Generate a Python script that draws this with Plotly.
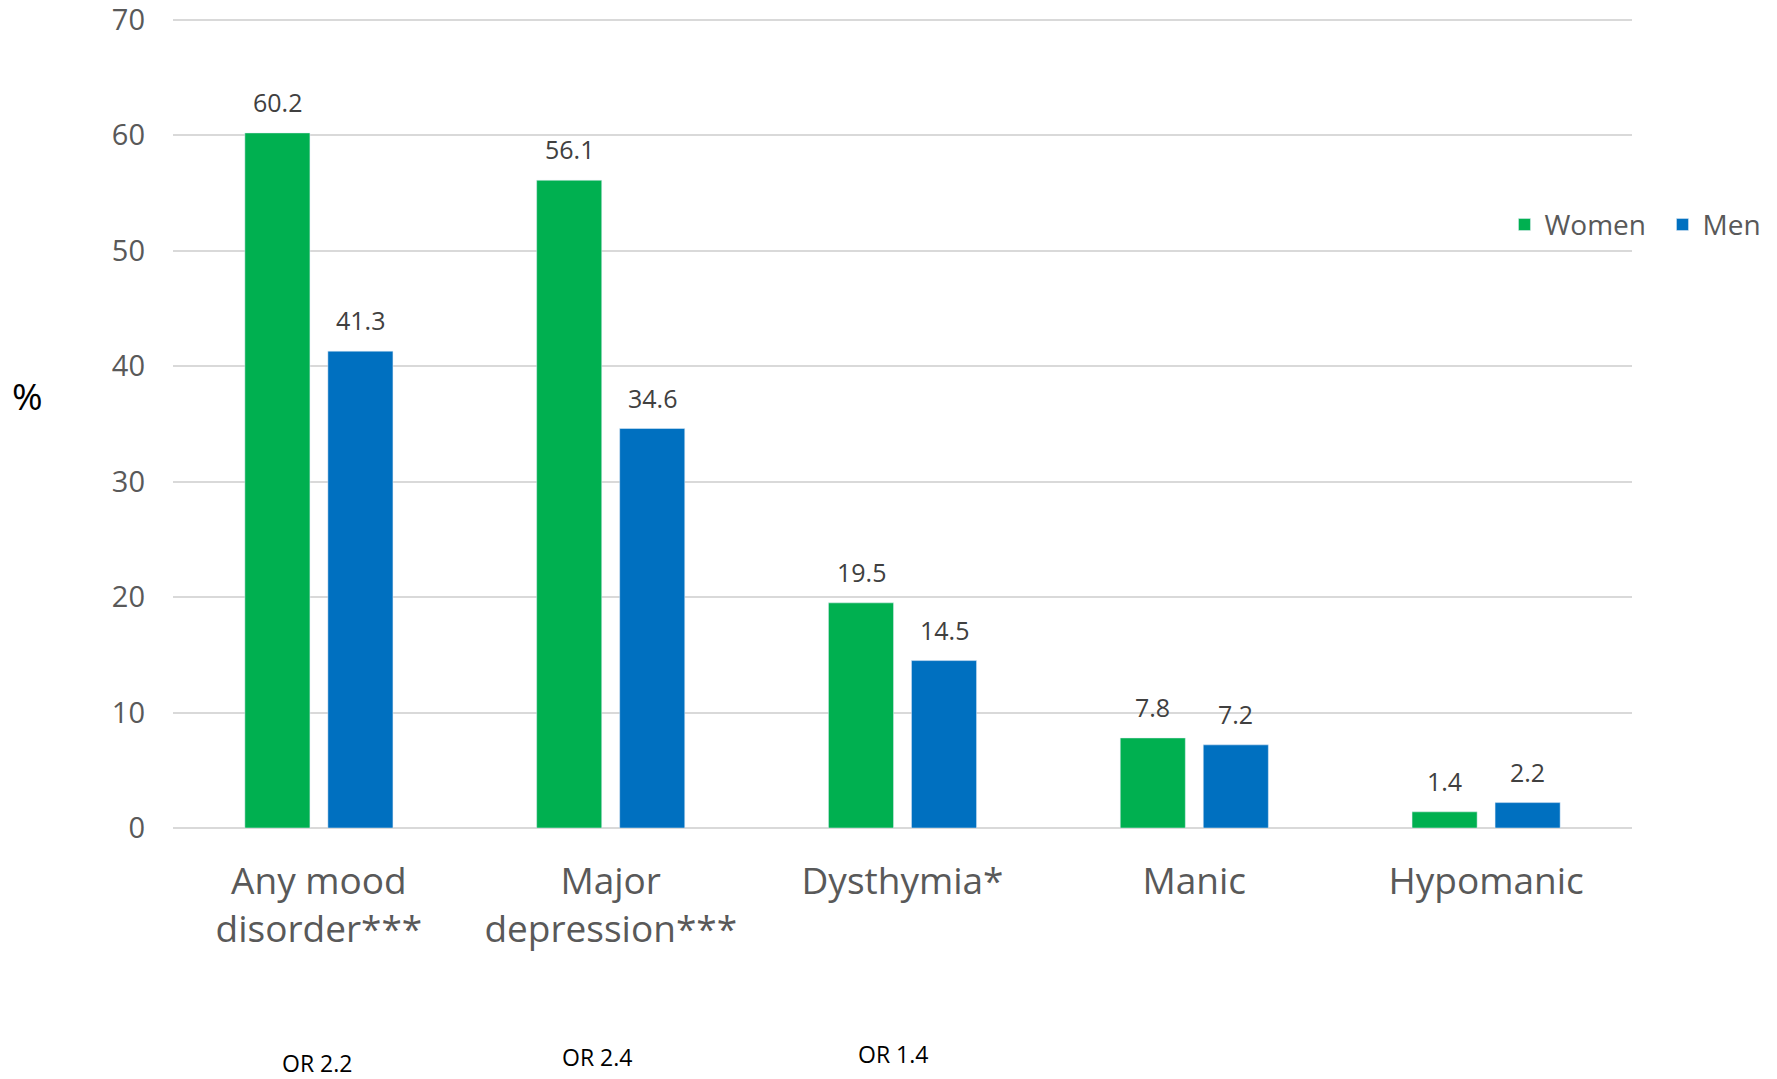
import plotly.graph_objects as go

# Prevalence of mood disorders by sex (%)
categories = ["Any mood<br>disorder***", "Major<br>depression***", "Dysthymia*", "Manic", "Hypomanic"]
women = [60.2, 56.1, 19.5, 7.8, 1.4]
men = [41.3, 34.6, 14.5, 7.2, 2.2]
odds_ratios = ["OR 2.2", "OR 2.4", "OR 1.4"]
or_shift = [-2, -14, -10]
or_y = [-0.289, -0.281, -0.278]
y_ticks = [0, 10, 20, 30, 40, 50, 60, 70]

GREEN = "#00B050"
BLUE = "#0070C0"
FONT = "Open Sans"

fig = go.Figure()
fig.add_trace(go.Bar(name="Women", x=categories, y=women, marker_color=GREEN))
fig.add_trace(go.Bar(name="Men", x=categories, y=men, marker_color=BLUE))

annotations = []
# value labels above each bar
for series, shift in ((women, -41.5), (men, 41.5)):
    for cat, val in zip(categories, series):
        annotations.append(dict(
            x=cat, y=val, xref="x", yref="y", text=f"{val}", showarrow=False,
            xshift=shift, yanchor="bottom", yshift=12,
            font=dict(family=FONT, size=25, color="#404040"),
        ))
# odds ratios under the first three categories
for cat, txt, sh, yy in zip(categories, odds_ratios, or_shift, or_y):
    annotations.append(dict(
        x=cat, y=yy, xref="x", yref="paper",
        text=txt, showarrow=False, xshift=sh, yanchor="middle",
        font=dict(family=FONT, size=23, color="#000000"),
    ))
# y-axis unit
annotations.append(dict(
    x=-0.0994, y=0.531, xref="paper", yref="paper", text="%", showarrow=False,
    xanchor="center", yanchor="middle",
    font=dict(family=FONT, size=37, color="#000000"),
))

fig.update_layout(
    width=1777, height=1079,
    margin=dict(l=173, r=145, t=14, b=251, autoexpand=False),
    paper_bgcolor="white", plot_bgcolor="white",
    barmode="group", bargap=0.431, bargroupgap=0.216,
    font=dict(family=FONT, color="#595959"),
    showlegend=True,
    legend=dict(
        orientation="h", x=0.9126, xanchor="left", y=0.741, yanchor="middle",
        font=dict(family=FONT, size=28, color="#595959"),
        bgcolor="rgba(0,0,0,0)", entrywidth=113,
    ),
    annotations=annotations,
)
fig.update_xaxes(
    showgrid=False, showline=False, zeroline=False,
    tickfont=dict(family=FONT, size=37, color="#595959"),
    ticks="", ticklabelstandoff=28,
)
fig.update_yaxes(
    range=[0, 70.5], tickvals=y_ticks,
    showgrid=True, gridcolor="#D9D9D9", gridwidth=1.5,
    zeroline=True, zerolinecolor="#D9D9D9", zerolinewidth=1.5, showline=False,
    tickfont=dict(family=FONT, size=29, color="#595959"),
    ticks="", ticklabelstandoff=27, ticklabeloverflow="allow",
)

fig.write_html("out.html")
